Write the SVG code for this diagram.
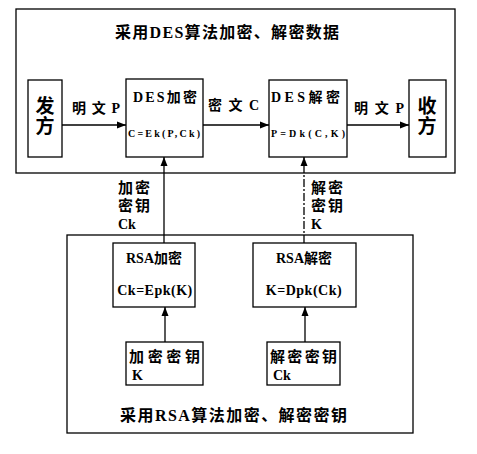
<svg xmlns="http://www.w3.org/2000/svg" width="477" height="454" viewBox="0 0 477 454">
<style>
  .box{fill:#fff;stroke:#000;stroke-width:1.3}
  .frame{fill:none;stroke:#000;stroke-width:1.3}
  .t{font-family:"Liberation Serif","Noto Sans CJK SC",serif;font-weight:bold;fill:#000}
  .c{text-anchor:middle}
  .ls{letter-spacing:2px}
  .ln{stroke:#000;stroke-width:1.3;fill:none}
</style>
<defs>
  <marker id="ah" markerWidth="10" markerHeight="8" refX="9" refY="4" orient="auto" markerUnits="userSpaceOnUse">
    <path d="M0,0.5 L9,4 L0,7.5 Z" fill="#000"/>
  </marker>
</defs>
<rect width="477" height="454" fill="#fff"/>
<g id="des-frame">
  <rect class="frame" x="16" y="9" width="439" height="164"/>
  <text class="t" x="115" y="38" font-size="16" textLength="224">采用DES算法加密、解密数据</text>
</g>
<g id="rsa-frame">
  <rect class="frame" x="67" y="235" width="346" height="198"/>
  <text class="t" x="120" y="421" font-size="16" textLength="227">采用RSA算法加密、解密密钥</text>
</g>
<g id="sender">
  <rect class="box" x="28" y="80" width="34" height="77"/>
  <text class="t c" x="45" y="113" font-size="19">发</text>
  <text class="t c" x="45" y="133" font-size="19">方</text>
</g>
<g id="des-enc">
  <rect class="box" x="126" y="79" width="77" height="78"/>
  <text class="t" x="133" y="102" font-size="14" textLength="64">DES加密</text>
  <text class="t" x="128" y="137" font-size="10" textLength="72">C=Ek(P,Ck)</text>
</g>
<g id="des-dec">
  <rect class="box" x="269" y="80" width="78" height="77"/>
  <text class="t" x="271" y="102" font-size="14" textLength="69">DES解密</text>
  <text class="t" x="271" y="137" font-size="10" textLength="74">P=Dk(C,K)</text>
</g>
<g id="receiver">
  <rect class="box" x="409" y="80" width="37" height="77"/>
  <text class="t c" x="427" y="113" font-size="19">收</text>
  <text class="t c" x="427" y="133" font-size="19">方</text>
</g>
<g id="rsa-enc">
  <rect class="box" x="113" y="243" width="82" height="64"/>
  <text class="t c" x="154" y="263" font-size="14">RSA加密</text>
  <text class="t c" x="155" y="295" font-size="14" letter-spacing="0.5">Ck=Epk(K)</text>
</g>
<g id="rsa-dec">
  <rect class="box" x="253" y="243" width="103" height="64"/>
  <text class="t c" x="304" y="263" font-size="14">RSA解密</text>
  <text class="t c" x="304" y="295" font-size="14" letter-spacing="0.5">K=Dpk(Ck)</text>
</g>
<g id="enc-key">
  <rect class="box" x="126" y="342" width="77" height="43"/>
  <text class="t" x="129" y="362" font-size="15" textLength="71">加密密钥</text>
  <text class="t" x="132" y="380" font-size="14">K</text>
</g>
<g id="dec-key">
  <rect class="box" x="267" y="342" width="73" height="43"/>
  <text class="t" x="270" y="362" font-size="15" textLength="67">解密密钥</text>
  <text class="t" x="273" y="380" font-size="14">Ck</text>
</g>
<g id="connectors">
  <line class="ln" x1="62" y1="125" x2="126" y2="125" marker-end="url(#ah)"/>
  <line class="ln" x1="203" y1="125" x2="269" y2="125" marker-end="url(#ah)"/>
  <line class="ln" x1="347" y1="125" x2="409" y2="125" marker-end="url(#ah)"/>
  <line class="ln" x1="164" y1="243" x2="164" y2="157" marker-end="url(#ah)"/>
  <line class="ln" x1="304" y1="243" x2="304" y2="157" stroke-dasharray="8,2,2,2" marker-end="url(#ah)"/>
  <line class="ln" x1="165" y1="342" x2="165" y2="307" marker-end="url(#ah)"/>
  <line class="ln" x1="305" y1="342" x2="305" y2="307" marker-end="url(#ah)"/>
  <text class="t" x="72" y="113" font-size="14" textLength="48">明文P</text>
  <text class="t" x="208" y="110" font-size="14" textLength="51">密文C</text>
  <text class="t" x="354" y="113" font-size="14" textLength="50">明文P</text>
  <text class="t ls" x="118" y="193" font-size="15">加密</text>
  <text class="t ls" x="118" y="211" font-size="15">密钥</text>
  <text class="t" x="118" y="229" font-size="14">Ck</text>
  <text class="t ls" x="311" y="193" font-size="15">解密</text>
  <text class="t ls" x="311" y="211" font-size="15">密钥</text>
  <text class="t" x="311" y="229" font-size="14">K</text>
</g>
</svg>
